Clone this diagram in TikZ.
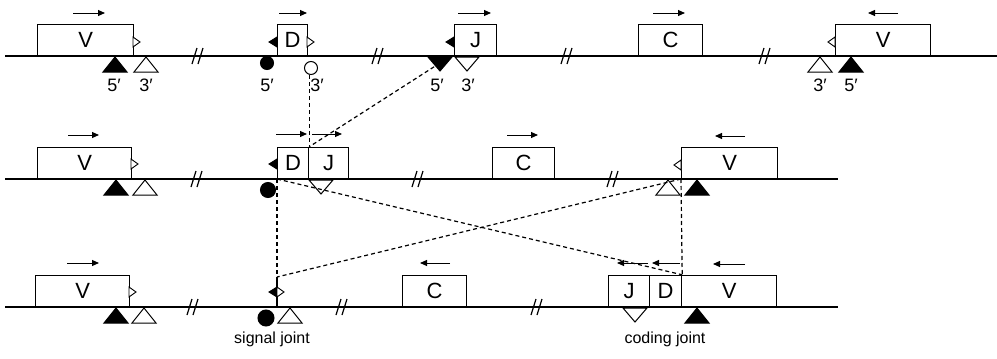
\documentclass[tikz,border=0pt]{standalone}
\usepackage{fontspec}
\setmainfont{Liberation Sans}
\usetikzlibrary{arrows.meta,calc}

\tikzset{
  genebox/.style={draw, line width=1.2pt, inner sep=0pt, anchor=south west,
    minimum height=31pt, font=\fontsize{22}{24}\selectfont},
  strand/.style={line width=1.5pt},
  dirarrow/.style={line width=1pt, -{Triangle[length=7pt,width=6pt]}},
  linkline/.style={line width=1.2pt, dash pattern=on 4pt off 3pt},
  endlabel/.style={font=\fontsize{18}{20}\selectfont, inner sep=0pt},
  jointlabel/.style={font=\fontsize{16}{18}\selectfont, inner sep=0pt},
  rss/.style={circle, draw, line width=1pt, inner sep=0pt},
  % heptamer markers beside the segments
  hepR/.pic={\draw[line width=0.9pt, fill=white] (0,-5) -- (7,0) -- (0,5) -- cycle;},
  hepLopen/.pic={\draw[line width=0.9pt, fill=white] (0,-5) -- (-7,0) -- (0,5) -- cycle;},
  hepLblack/.pic={\filldraw[line width=0.9pt] (0,-5) -- (-8,0) -- (0,5) -- cycle;},
  % nonamer markers under the strand
  upBlack/.pic={\filldraw[line width=1pt] (0,1) -- (12,16) -- (-12,16) -- cycle;},
  upOpen/.pic={\draw[line width=1pt, fill=white] (0,1) -- (12,16) -- (-12,16) -- cycle;},
  downBlack/.pic={\filldraw[line width=1pt] (-12,1) -- (12,1) -- (0,15) -- cycle;},
  downOpen/.pic={\draw[line width=1pt, fill=white] (-12,1) -- (12,1) -- (0,15) -- cycle;},
  % break in the strand
  brk/.pic={\draw[line width=1.2pt] (-6,8) -- (-1,-8) (0,8) -- (5,-8);},
}

\begin{document}
\begin{tikzpicture}[x=1pt,y=-1pt]
\useasboundingbox (0,0) rectangle (997,359);

%% ---------- germline ----------
\draw[strand] (5,56) -- (997,56);
\node[genebox, minimum width=96pt] (V1) at (37,56) {V};
\node[genebox, minimum width=30pt] (D1) at (277,56) {D};
\node[genebox, minimum width=42pt] (J1) at (454,56) {J};
\node[genebox, minimum width=64pt] (C1) at (638,56) {C};
\node[genebox, minimum width=95pt] (Vr1) at (835,56) {V};

\draw[dirarrow] (73,13) -- (105,13);
\draw[dirarrow] (279,13) -- (307,13);
\draw[dirarrow] (458,13) -- (491,13);
\draw[dirarrow] (653,13) -- (685,13);
\draw[dirarrow] (898,13) -- (868,13);

\pic at (133,42) {hepR};
\pic at (277,42) {hepLblack};
\pic at (307,42) {hepR};
\pic at (454,42) {hepLblack};
\pic at (835,42) {hepLopen};

\pic at (115,56) {upBlack};
\pic at (146,56) {upOpen};
\node[rss, fill=black, minimum size=13pt] (c1b) at (267,63) {};
\node[rss, fill=white, minimum size=13pt] (c1o) at (311,68) {};
\pic at (440,56) {downBlack};
\coordinate (t1j) at (440,63);
\pic at (467,56) {downOpen};
\pic at (820,56) {upOpen};
\pic at (851,56) {upBlack};

\node[endlabel] (l1a) at (114,85) {5′};
\node[endlabel] (l1b) at (146,85) {3′};
\node[endlabel] (l1c) at (267,85) {5′};
\node[endlabel] (l1d) at (317,85) {3′};
\node[endlabel] (l1e) at (437,85) {5′};
\node[endlabel] (l1f) at (468,85) {3′};
\node[endlabel] (l1g) at (820,85) {3′};
\node[endlabel] (l1h) at (851,85) {5′};

\pic at (198,56) {brk};
\pic at (378,56) {brk};
\pic at (567,56) {brk};
\pic at (765,56) {brk};

%% ---------- D-J joined ----------
\draw[strand] (5,179) -- (838,179);
\node[genebox, minimum width=94pt] (V2) at (37,179) {V};
\node[genebox, minimum width=31pt] (D2) at (277,179) {D};
\node[genebox, minimum width=40pt] (J2) at (308,179) {J};
\node[genebox, minimum width=62pt] (C2) at (492,179) {C};
\node[genebox, minimum width=96pt] (Vr2) at (681,179) {V};

\draw[dirarrow] (68,135) -- (99,135);
\draw[dirarrow] (276,134) -- (307,134);
\draw[dirarrow] (312,134) -- (342,134);
\draw[dirarrow] (507,135) -- (538,135);
\draw[dirarrow] (745,136) -- (715,136);

\pic at (131,164) {hepR};
\pic at (277,164) {hepLblack};
\pic at (681,165) {hepLopen};

\pic at (116,179) {upBlack};
\pic at (145,179) {upOpen};
\node[rss, fill=black, minimum size=15pt] (c2b) at (268,190) {};
\pic at (321,179) {downOpen};
\pic at (668,179) {upOpen};
\pic at (697,179) {upBlack};

\pic at (197,179) {brk};
\pic at (418,179) {brk};
\pic at (613,179) {brk};

%% ---------- V to DJ ----------
\draw[strand] (5,307) -- (838,307);
\node[genebox, minimum width=94pt] (V3) at (35,307) {V};
\node[genebox, minimum width=64pt] (C3) at (402,307) {C};
\node[genebox, minimum width=41pt] (J3) at (608,307) {J};
\node[genebox, minimum width=32pt] (D3) at (649,307) {D};
\node[genebox, minimum width=95pt] (Vr3) at (681,307) {V};

\draw[dirarrow] (67,263) -- (99,263);
\draw[dirarrow] (450,263) -- (420,263);
\draw[dirarrow] (648,263) -- (617,263);
\draw[dirarrow] (680,263) -- (652,263);
\draw[dirarrow] (745,264) -- (713,264);

\pic at (129,292) {hepR};
\pic at (116,307) {upBlack};
\pic at (144,307) {upOpen};

% signal joint
\coordinate (sj) at (277,277);
\draw[line width=1.1pt] (277,307) -- (sj);
\pic at (277,292) {hepLblack};
\pic at (277,292) {hepR};
\node[rss, fill=black, minimum size=16pt] (c3b) at (266,318) {};
\pic at (290,307) {upOpen};

% coding joint
\pic at (635,307) {downOpen};
\pic at (697,307) {upBlack};

\pic at (193,307) {brk};
\pic at (342,307) {brk};
\pic at (537,307) {brk};

\node[jointlabel] (sjl) at (272,339) {signal joint};
\node[jointlabel] (cjl) at (665,339) {coding joint};

%% ---------- dashed links ----------
\draw[linkline] (c1o.south -| D2.north east) -- (D2.north east);
\draw[linkline] (t1j) -- (D2.north east);
\draw[linkline] (D2.south west) -- (sj);
\draw[linkline] (D2.south west) -- (D3.north east);
\draw[linkline] (Vr2.south west) -- (sj);
\draw[linkline] (Vr2.south west) -- (D3.north east);
\end{tikzpicture}
\end{document}
